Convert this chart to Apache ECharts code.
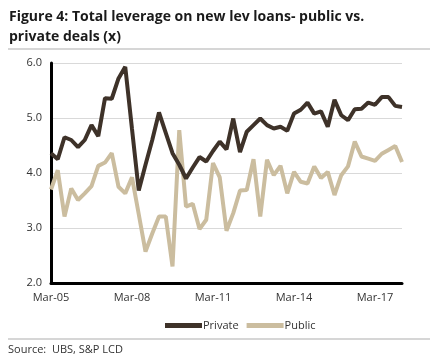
<!DOCTYPE html>
<html>
<head>
<meta charset="utf-8">
<script src="https://cdn.jsdelivr.net/npm/echarts@6/dist/echarts.min.js"></script>
<style>
html,body{margin:0;padding:0;background:#fff;}
#chart{width:431px;height:359px;}
</style>
</head>
<body>
<div id="chart"></div>
<script>
var categories = [
 'Mar-05','Jun-05','Sep-05','Dec-05','Mar-06','Jun-06','Sep-06','Dec-06',
 'Mar-07','Jun-07','Sep-07','Dec-07','Mar-08','Jun-08','Sep-08','Dec-08',
 'Mar-09','Jun-09','Sep-09','Dec-09','Mar-10','Jun-10','Sep-10','Dec-10',
 'Mar-11','Jun-11','Sep-11','Dec-11','Mar-12','Jun-12','Sep-12','Dec-12',
 'Mar-13','Jun-13','Sep-13','Dec-13','Mar-14','Jun-14','Sep-14','Dec-14',
 'Mar-15','Jun-15','Sep-15','Dec-15','Mar-16','Jun-16','Sep-16','Dec-16',
 'Mar-17','Jun-17','Sep-17','Dec-17','Mar-18'
];
var privateValues = [
 4.36,4.25,4.65,4.60,4.47,4.60,4.87,4.67,
 5.36,5.35,5.72,5.93,4.80,3.68,4.15,4.60,
 5.10,4.73,4.36,4.15,3.90,4.10,4.29,4.21,
 4.40,4.57,4.43,4.99,4.38,4.75,4.87,4.99,
 4.87,4.81,4.84,4.77,5.08,5.15,5.28,5.08,
 5.12,4.84,5.33,5.05,4.96,5.16,5.17,5.28,
 5.24,5.38,5.38,5.22,5.20
];
var publicValues = [
 3.70,4.05,3.21,3.72,3.51,3.63,3.76,4.13,
 4.19,4.36,3.75,3.63,3.92,3.25,2.57,2.90,
 3.21,3.21,2.30,4.78,3.39,3.44,2.98,3.15,
 4.18,3.92,2.95,3.27,3.68,3.69,4.25,3.21,
 4.24,3.96,4.13,3.63,4.02,3.84,3.81,4.12,
 3.91,4.02,3.60,3.96,4.12,4.57,4.30,4.26,
 4.22,4.35,4.42,4.49,4.20
];
var yTicks = [2, 3, 4, 5, 6];

var FONT = '"Open Sans", "DejaVu Sans", sans-serif';
var chart = echarts.init(document.getElementById('chart'), null, {renderer: 'canvas'});
chart.setOption({
  animation: false,
  backgroundColor: '#ffffff',
  title: {
    text: 'Figure 4: Total leverage on new lev loans- public vs.\nprivate deals (x)',
    left: 4, top: 2,
    textStyle: {fontFamily: FONT, fontSize: 14, fontWeight: 'bold', color: '#1a1a1a', lineHeight: 20}
  },
  graphic: [
    {type: 'line', shape: {x1: 8, y1: 49, x2: 430, y2: 49}, style: {stroke: '#c8c8c8', lineWidth: 1.5}},
    {type: 'line', shape: {x1: 8, y1: 339, x2: 430, y2: 339}, style: {stroke: '#c8c8c8', lineWidth: 1.5}},
    {type: 'text', left: 8, top: 344, style: {text: 'Source:  UBS, S&P LCD', font: '11px ' + FONT, fill: '#333333'}}
  ],
  legend: {
    data: ['Private', 'Public'],
    left: 160, top: 315,
    icon: 'rect', itemWidth: 37, itemHeight: 5, itemGap: 8,
    textStyle: {fontFamily: FONT, fontSize: 11, color: '#333333', padding: [0, 0, 0, -4]}
  },
  grid: {left: 51, right: 29, top: 63, bottom: 76, containLabel: false},
  xAxis: {
    type: 'category',
    data: categories,
    boundaryGap: false,
    axisLine: {show: true, lineStyle: {color: '#000000', width: 3}},
    axisTick: {show: false},
    axisLabel: {interval: 11, margin: 9, fontFamily: FONT, fontSize: 11, color: '#333333'},
    splitLine: {show: false}
  },
  yAxis: {
    type: 'value',
    min: yTicks[0], max: yTicks[yTicks.length - 1], interval: 1,
    axisLine: {show: true, lineStyle: {color: '#000000', width: 3}},
    axisTick: {show: false},
    axisLabel: {margin: 9, fontFamily: FONT, fontSize: 11, color: '#333333', formatter: function (v) { return v.toFixed(1); }},
    splitLine: {show: true, lineStyle: {color: '#d9d9d9', width: 1}}
  },
  series: [
    {name: 'Private', type: 'line', data: privateValues, symbol: 'none',
     lineStyle: {color: '#3e3229', width: 4}, itemStyle: {color: '#3e3229'}, z: 3},
    {name: 'Public', type: 'line', data: publicValues, symbol: 'none',
     lineStyle: {color: '#cbbd9f', width: 4}, itemStyle: {color: '#cbbd9f'}, z: 2}
  ]
});
</script>
</body>
</html>
